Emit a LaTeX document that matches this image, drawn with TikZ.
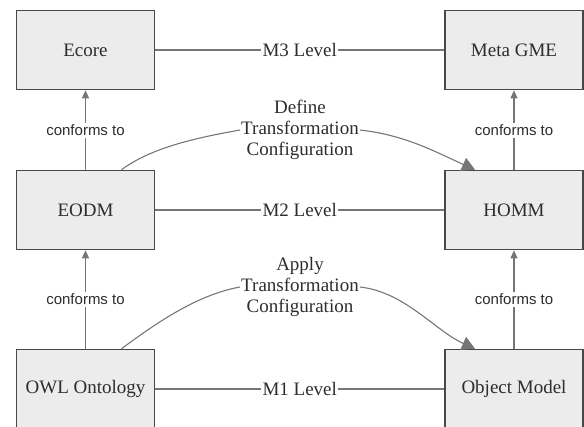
\documentclass[tikz,border=0pt]{standalone}
\usepackage{fontspec}
\setmainfont{Liberation Serif}
\setsansfont{Liberation Sans}
\usetikzlibrary{arrows.meta, positioning, calc}
\definecolor{boxfill}{RGB}{236,236,236}
\definecolor{boxline}{RGB}{72,72,72}
\definecolor{linkgray}{RGB}{118,118,118}
\definecolor{inkgray}{RGB}{45,45,45}

\begin{document}
\begin{tikzpicture}[x=1pt, y=-1pt,
  modelbox/.style={draw=boxline, line width=1.6pt, fill=boxfill, minimum width=138pt, minimum height=79pt, text=inkgray, font=\fontsize{19}{21}\selectfont},
  link/.style={linkgray, line width=1.1pt},
  conf/.style={fill=white, text=inkgray, font=\sffamily\fontsize{15}{17}\selectfont, inner sep=2pt},
  levellabel/.style={fill=white, text=inkgray, font=\fontsize{19}{21}\selectfont, inner sep=1.5pt},
  trans/.style={align=center, text=inkgray, font=\fontsize{19}{21}\selectfont, inner sep=1pt}]
  \clip (0,0) rectangle (584,426);
  % model boxes
  \node[modelbox] (ecore) at (85.5,50) {Ecore};
  \node[modelbox] (metagme) at (514,50) {Meta GME};
  \node[modelbox] (eodm) at (85.5,210) {EODM};
  \node[modelbox] (homm) at (514,210) {HOMM};
  \node[modelbox] (owl) at (85.5,389) {OWL Ontology};
  \node[modelbox] (objmodel) at (514,389) {Object Model};
  % levels
  \draw[link] (ecore) -- node[levellabel] {M3 Level} (metagme);
  \draw[link] (eodm) -- node[levellabel] {M2 Level} (homm);
  \draw[link] (owl) -- node[levellabel] {M1 Level} (objmodel);
  % conformance
  \draw[link, -{Triangle[length=8pt,width=7pt]}] (eodm) -- node[conf] {conforms to} (ecore);
  \draw[link, -{Triangle[length=8pt,width=7pt]}] (owl) -- node[conf] {conforms to} (eodm);
  \draw[link, -{Triangle[length=8pt,width=7pt]}] (homm) -- node[conf] {conforms to} (metagme);
  \draw[link, -{Triangle[length=8pt,width=7pt]}] (objmodel) -- node[conf] {conforms to} (homm);
  % transformations
  \node[trans] (define) at (300,130) {Define\\Transformation\\Configuration};
  \node[trans] (apply) at (300,287) {Apply\\Transformation\\Configuration};
  \draw[link] ($(eodm.north)+(36,0)$) .. controls +(30,-22) and +(-45,8) .. (define.west);
  \draw[link, -{Triangle[length=13pt,width=14pt]}] (define.east) .. controls +(45,5) and +(-40,-18) .. ($(homm.north)+(-39,0)$);
  \draw[link] ($(owl.north)+(36,0)$) .. controls +(30,-22) and +(-45,8) .. (apply.west);
  \draw[link, -{Triangle[length=13pt,width=14pt]}] (apply.east) .. controls +(45,5) and +(-40,-18) .. ($(objmodel.north)+(-39,0)$);
\end{tikzpicture}
\end{document}
